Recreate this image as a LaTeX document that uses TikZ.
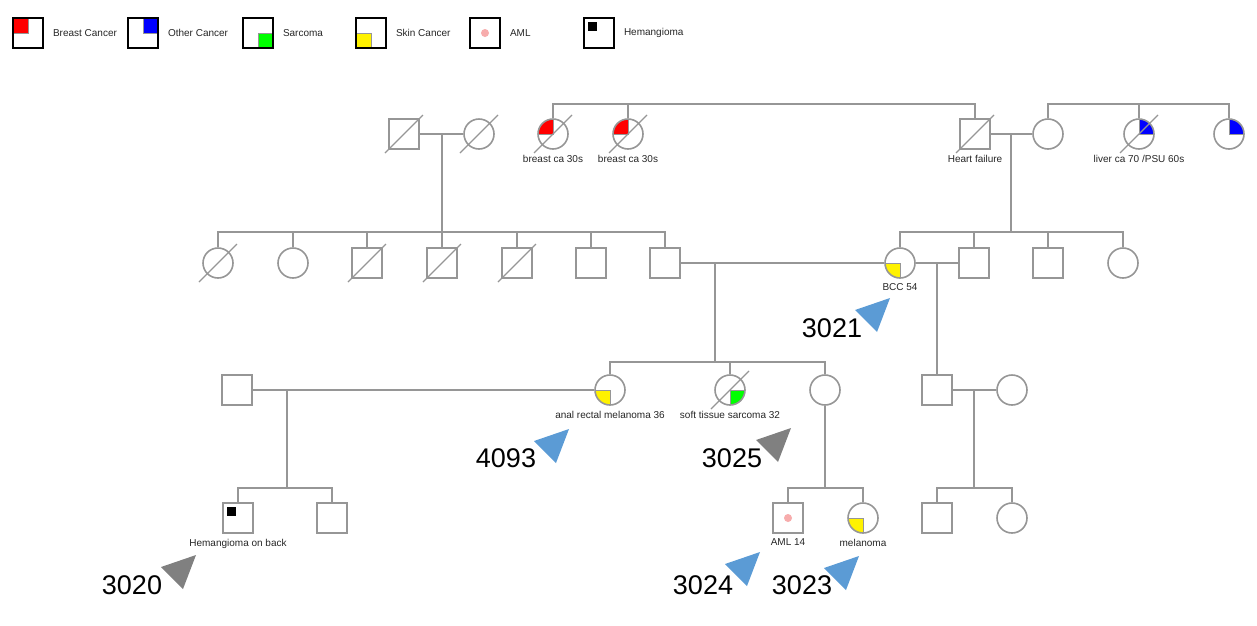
\documentclass[tikz,border=0pt]{standalone}
\usepackage{fontspec}
\setmainfont{Liberation Sans}
\usetikzlibrary{calc}
\usetikzlibrary{positioning}

\definecolor{pedline}{RGB}{150,150,150}
\definecolor{tagblue}{RGB}{91,155,213}
\definecolor{taggray}{RGB}{128,128,128}
\definecolor{amlpink}{RGB}{247,172,172}

\tikzset{
  male/.style={rectangle, draw=pedline, line width=1.6pt, fill=white, minimum size=30pt, inner sep=0pt},
  female/.style={circle, draw=pedline, line width=1.6pt, fill=white, minimum size=30pt, inner sep=0pt},
  rel/.style={draw=pedline, line width=1.6pt},
  slash/.style={draw=pedline, line width=1.3pt},
  % affected quarter of a symbol
  quarter/.style 2 args={path picture={
    \filldraw[fill=#1, draw=pedline, line width=1pt]
      (path picture bounding box.center) rectangle (path picture bounding box.#2);}},
  amlmark/.style={path picture={
    \fill[amlpink] (path picture bounding box.center) circle (4);}},
  hemmark/.style={path picture={
    \fill[black] ($(path picture bounding box.center)+(-11,11)$) rectangle ++(9,-9);}},
  lbl/.style={font=\fontsize{10}{12}\selectfont, text=black!85, inner sep=0pt},
  idtag/.style={font=\fontsize{27}{30}\selectfont, inner sep=0pt},
  legbox/.style={rectangle, draw=black, line width=1.6pt, fill=white, minimum size=30pt, inner sep=0pt},
  legtxt/.style={font=\fontsize{10}{12}\selectfont, text=black!85, inner sep=0pt, anchor=west},
}

\begin{document}
\begin{tikzpicture}[x=1pt, y=1pt]
\useasboundingbox (0,0) rectangle (1257,-625);

% legend
\node[legbox, quarter={red}{north west}] (lg1) at (28,-33) {};
\node[legtxt, right=9pt of lg1] (lg1t) {Breast Cancer};
\node[legbox, quarter={blue}{north east}] (lg2) at (143,-33) {};
\node[legtxt, right=9pt of lg2] (lg2t) {Other Cancer};
\node[legbox, quarter={green}{south east}] (lg3) at (258,-33) {};
\node[legtxt, right=9pt of lg3] (lg3t) {Sarcoma};
\node[legbox, quarter={yellow}{south west}] (lg4) at (371,-33) {};
\node[legtxt, right=9pt of lg4] (lg4t) {Skin Cancer};
\node[legbox, amlmark] (lg5) at (485,-33) {};
\node[legtxt, right=9pt of lg5] (lg5t) {AML};
\node[legbox, hemmark] (lg6) at (599,-33) {};
\node[legtxt, right=9pt of lg6] (lg6t) {Hemangioma};

% generation I
\node[male] (gf) at (404,-134) {};
\node[female] (gm) at (479,-134) {};
\node[female, quarter={red}{north west}] (ba1) at (553,-134) {};
\node[female, quarter={red}{north west}] (ba2) at (628,-134) {};
\node[male] (hf) at (975,-134) {};
\node[female] (hw) at (1048,-134) {};
\node[female, quarter={blue}{north east}] (lv) at (1139,-134) {};
\node[female, quarter={blue}{north east}] (oc) at (1229,-134) {};

% generation II
\node[female] (a1) at (218,-263) {};
\node[female] (a2) at (293,-263) {};
\node[male] (a3) at (367,-263) {};
\node[male] (a4) at (442,-263) {};
\node[male] (a5) at (517,-263) {};
\node[male] (a6) at (591,-263) {};
\node[male] (fa) at (665,-263) {};
\node[female, quarter={yellow}{south west}] (mo) at (900,-263) {};
\node[male] (b2) at (974,-263) {};
\node[male] (b3) at (1048,-263) {};
\node[female] (b4) at (1123,-263) {};

% generation III
\node[male] (hb) at (237,-390) {};
\node[female, quarter={yellow}{south west}] (ar) at (610,-390) {};
\node[female, quarter={green}{south east}] (st) at (730,-390) {};
\node[female] (sm) at (825,-390) {};
\node[male] (br) at (937,-390) {};
\node[female] (bw) at (1012,-390) {};

% generation IV
\node[male, hemmark] (hm) at (238,-518) {};
\node[male] (hs) at (332,-518) {};
\node[male, amlmark] (am) at (788,-518) {};
\node[female, quarter={yellow}{south west}] (me) at (863,-518) {};
\node[male] (c1) at (937,-518) {};
\node[female] (c2) at (1012,-518) {};

% deceased
\foreach \n in {gf,gm,ba1,ba2,hf,lv,a1,a3,a4,a5,st}
  \draw[slash] ($(\n.center)+(-19,-19)$) -- ($(\n.center)+(19,19)$);

% sibship and couple lines
\coordinate (s0) at (975,-104);
\draw[rel] (ba1.north) |- (s0) -- (hf.north);
\draw[rel] (ba2.north) -- (ba2.north |- s0);
\coordinate (s0r) at (1229,-104);
\draw[rel] (hw.north) |- (s0r) -- (oc.north);
\draw[rel] (lv.north) -- (lv.north |- s0r);

\draw[rel] (gf.east) -- (gm.west);
\coordinate (j1) at (442,-134);
\coordinate (s1) at (442,-232);
\draw[rel] (j1) -- (s1);
\draw[rel] (a1.north) |- (s1) -| (fa.north);
\foreach \n in {a2,a3,a4,a5,a6}
  \draw[rel] (\n.north) -- (\n.north |- s1);

\draw[rel] (hf.east) -- (hw.west);
\coordinate (j2) at (1011,-134);
\coordinate (s2) at (1011,-232);
\draw[rel] (j2) -- (s2);
\draw[rel] (mo.north) |- (s2) -| (b4.north);
\foreach \n in {b2,b3}
  \draw[rel] (\n.north) -- (\n.north |- s2);

\draw[rel] (fa.east) -- (mo.west);
\draw[rel] (mo.east) -- (b2.west);
\coordinate (j3) at (715,-263);
\coordinate (s3) at (715,-362);
\draw[rel] (j3) -- (s3);
\draw[rel] (ar.north) |- (s3) -| (sm.north);
\draw[rel] (st.north) -- (st.north |- s3);
\coordinate (j4) at (937,-263);
\draw[rel] (j4) -- (br.north);

\draw[rel] (hb.east) -- (ar.west);
\coordinate (j5) at (287,-390);
\coordinate (s5) at (287,-488);
\draw[rel] (j5) -- (s5);
\draw[rel] (hm.north) |- (s5) -| (hs.north);

\coordinate (s6) at (825,-488);
\draw[rel] (sm.south) -- (s6);
\draw[rel] (am.north) |- (s6) -| (me.north);

\draw[rel] (br.east) -- (bw.west);
\coordinate (j7) at (974,-390);
\coordinate (s7) at (974,-488);
\draw[rel] (j7) -- (s7);
\draw[rel] (c1.north) |- (s7) -| (c2.north);

% notes under the symbols
\node[lbl, below=5pt of ba1] (ba1l) {breast ca 30s};
\node[lbl, below=5pt of ba2] (ba2l) {breast ca 30s};
\node[lbl, below=5pt of hf] (hfl) {Heart failure};
\node[lbl, below=5pt of lv] (lvl) {liver ca 70 /PSU 60s};
\node[lbl, below=5pt of mo] (mol) {BCC 54};
\node[lbl, below=5pt of ar] (arl) {anal rectal melanoma 36};
\node[lbl, below=5pt of st] (stl) {soft tissue sarcoma 32};
\node[lbl, below=5pt of hm] (hml) {Hemangioma on back};
\node[lbl, below=5pt of am] (aml) {AML 14};
\node[lbl, below=5pt of me] (mel) {melanoma};

% sample ids with pointers
\node[idtag] (t3021) at (832,-328) {3021};
\fill[tagblue] (890,-298) -- ++(-35,-12) -- ++(22,-22) -- cycle;
\node[idtag] (t4093) at (506,-458) {4093};
\fill[tagblue] (569,-429) -- ++(-35,-12) -- ++(22,-22) -- cycle;
\node[idtag] (t3025) at (732,-458) {3025};
\fill[taggray] (791,-428) -- ++(-35,-12) -- ++(22,-22) -- cycle;
\node[idtag] (t3020) at (132,-585) {3020};
\fill[taggray] (196,-555) -- ++(-35,-12) -- ++(22,-22) -- cycle;
\node[idtag] (t3024) at (703,-585) {3024};
\fill[tagblue] (760,-552) -- ++(-35,-12) -- ++(22,-22) -- cycle;
\node[idtag] (t3023) at (802,-585) {3023};
\fill[tagblue] (859,-556) -- ++(-35,-12) -- ++(22,-22) -- cycle;

\end{tikzpicture}
\end{document}
